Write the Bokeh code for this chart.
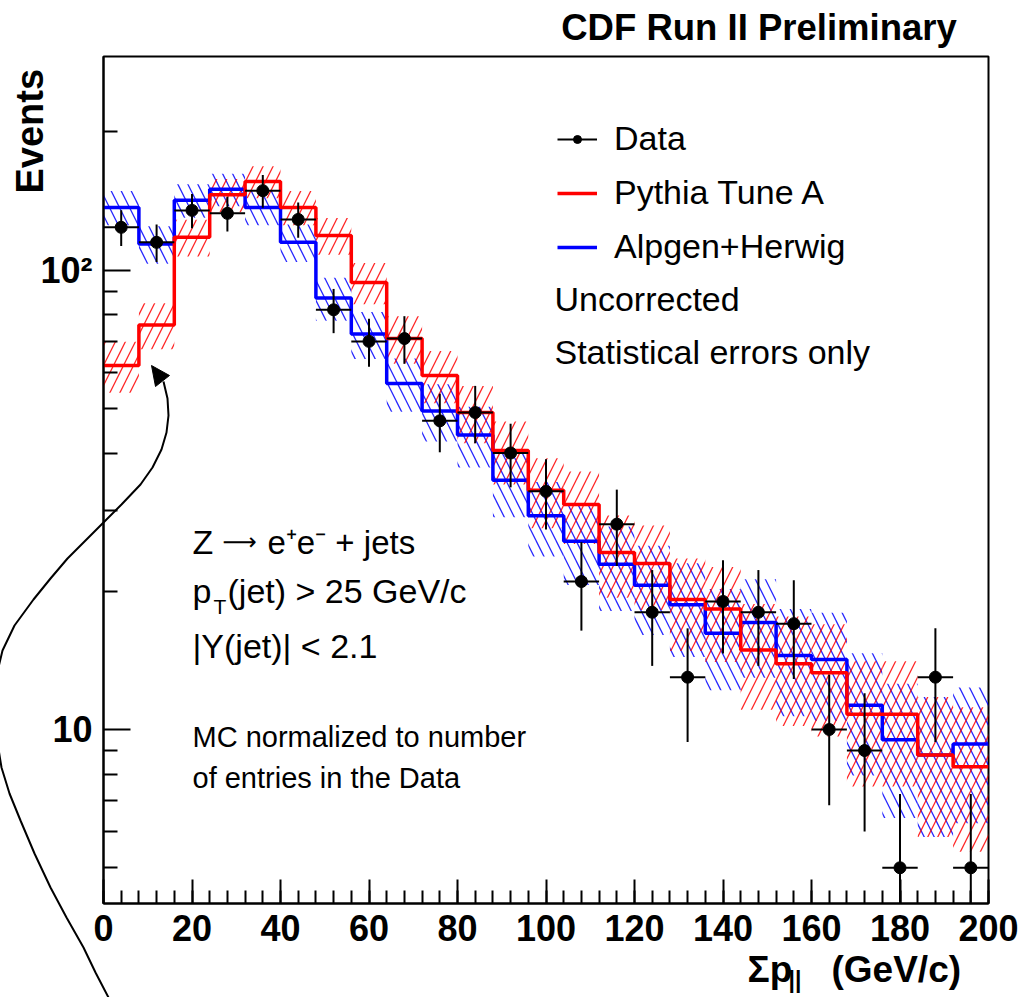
import math
import numpy as np
from bokeh.plotting import figure
from bokeh.models import (Range1d, FixedTicker, SingleIntervalTicker,
                          Legend, LegendItem)
from bokeh.core.properties import value
from bokeh.embed import file_html
from bokeh.resources import INLINE

# ---------------- data ----------------
bin_edges = [0, 8, 16, 24, 32, 40, 48, 56, 64, 72, 80, 88, 96, 104, 112,
             120, 128, 136, 144, 152, 160, 168, 176, 184, 192, 200]
bin_centers = [4, 12, 20, 28, 36, 44, 52, 60, 68, 76, 84, 92, 100, 108,
               116, 124, 132, 140, 148, 156, 164, 172, 180, 188, 196]
data_counts = [124, 115, 135, 133, 149, 129, 82, 70, 71, 47, 49, 40, 33,
               21, 28, 18, 13, 19, 18, 17, 10, 9, 5, 13, 5]
pythia_tune_a = [62, 76, 118, 146, 156, 137, 119, 94, 71, 59, 49, 40.5,
                 33.2, 30.9, 24.3, 23.0, 19.2, 18.3, 14.9, 13.9, 13.3,
                 10.8, 10.8, 8.8, 8.3]
alpgen_herwig = [137, 114, 142, 150, 137, 115, 87, 72.6, 56.7, 49.4, 43.8,
                 34.9, 29.2, 25.7, 22.9, 20.6, 18.7, 16.2, 17.1, 14.5, 14.2,
                 11.3, 9.5, 8.8, 9.3]
y_major_ticks = [10, 100]
y_minor_ticks = [5, 6, 7, 8, 9, 20, 30, 40, 50, 60, 70, 80, 90, 200]
y_tick_labels = {10: "10", 100: "10\u00b2"}

# hand-drawn annotation arrow (canvas pixels)
arrow_path_px = [(108, 997), (95, 972), (83, 947), (66, 917), (50, 887),
                 (34, 853), (20, 820), (9, 793), (1, 767), (-4, 736),
                 (-6, 705), (-4, 675), (2, 650), (14, 625), (33, 599),
                 (50, 578), (67, 558), (85, 540), (102, 523), (121, 504),
                 (140, 484), (152, 467), (161, 449), (166, 432), (168, 415),
                 (167, 398), (163, 381)]
arrow_head_px = [(151, 365), (169, 375), (155, 386)]

# ---------------- geometry ----------------
W, H = 1025, 997
FL, FR, FT, FB = 103, 988, 56, 903
X0, X1 = 0, 200
Y0, Y1 = 4.18, 292.0


def xd(px):
    return X0 + (px - FL) / (FR - FL) * (X1 - X0)


def yd(py):
    lo, hi = math.log10(Y0), math.log10(Y1)
    return 10 ** (lo + (FB - py) / (FB - FT) * (hi - lo))


FONT = "Liberation Sans"

p = figure(width=W, height=H, x_range=Range1d(X0, X1), y_range=Range1d(Y0, Y1),
           y_axis_type="log", output_backend="svg", toolbar_location=None,
           min_border_left=FL, min_border_right=W - FR, min_border_top=FT,
           min_border_bottom=H - FB, background_fill_color="white",
           border_fill_color="white")
p.title.visible = False
p.grid.visible = False
p.outline_line_color = "black"
p.outline_line_width = 2

for ax in (p.xaxis[0], p.yaxis[0]):
    ax.axis_line_width = 2
    ax.major_tick_line_width = 2
    ax.minor_tick_line_width = 2
    ax.major_tick_out = 0
    ax.minor_tick_out = 0
    ax.major_label_text_font = FONT
    ax.major_label_text_font_style = "bold"
    ax.major_label_text_font_size = "36px"
    ax.major_label_text_color = "black"

xa = p.xaxis[0]
xa.ticker = SingleIntervalTicker(interval=20, num_minor_ticks=5)
xa.major_tick_in = 24
xa.minor_tick_in = 13
xa.major_label_standoff = 11

ya = p.yaxis[0]
ya.ticker = FixedTicker(ticks=y_major_ticks, minor_ticks=y_minor_ticks)
ya.major_label_overrides = y_tick_labels
ya.major_tick_in = 27
ya.minor_tick_in = 14
ya.major_label_standoff = 11

edges = np.array(bin_edges, dtype=float)
py_v = np.array(pythia_tune_a, dtype=float)
al_v = np.array(alpgen_herwig, dtype=float)
dat = np.array(data_counts, dtype=float)
py_e = np.sqrt(py_v)
al_e = np.sqrt(al_v)
dat_e = np.sqrt(dat)

# hatched statistical bands
p.quad(left=edges[:-1], right=edges[1:], bottom=al_v - al_e, top=al_v + al_e,
       fill_alpha=0, line_alpha=0, hatch_pattern="\\", hatch_color="#0000ff",
       hatch_scale=20, hatch_weight=1.3, hatch_alpha=0.85)
p.quad(left=edges[:-1], right=edges[1:], bottom=py_v - py_e, top=py_v + py_e,
       fill_alpha=0, line_alpha=0, hatch_pattern="/", hatch_color="#ff0000",
       hatch_scale=20, hatch_weight=1.3, hatch_alpha=0.85)

# step histograms
al_step = p.step(x=edges, y=np.append(al_v, al_v[-1]), mode="after",
                 line_color="#0000ff", line_width=3.5)
py_step = p.step(x=edges, y=np.append(py_v, py_v[-1]), mode="after",
                 line_color="#ff0000", line_width=3.5)

# data
cen = np.array(bin_centers, dtype=float)
data_h = p.segment(x0=edges[:-1], x1=edges[1:], y0=dat, y1=dat,
                   line_color="black", line_width=2)
data_v = p.segment(x0=cen, x1=cen, y0=dat - dat_e, y1=dat + dat_e,
                   line_color="black", line_width=2)
data_pts = p.scatter(cen, dat, size=12, color="black")

legend = Legend(items=[LegendItem(label="Data", renderers=[data_h, data_pts]),
                       LegendItem(label="Pythia Tune A", renderers=[py_step]),
                       LegendItem(label="Alpgen+Herwig", renderers=[al_step])],
                location=(454, 637), label_text_font=FONT,
                label_text_font_size="34px", label_text_color="black",
                glyph_width=40, glyph_height=20,
                label_standoff=17, spacing=15, padding=0, margin=0,
                border_line_alpha=0, background_fill_alpha=0)
p.add_layout(legend)


def add_text(text, px, py, size, bold=False, align="left", angle=0.0,
             font=FONT):
    """Text anchored at its vertical middle (py = visual centre of caps)."""
    p.text(x=[xd(px)], y=[yd(py)], text=[text], text_font=value(font),
           text_font_size=value(f"{size}px"),
           text_font_style=value("bold" if bold else "normal"),
           text_align=value(align), text_baseline=value("middle"),
           text_color="black", angle=angle, level="overlay")


add_text("CDF Run II Preliminary", 758.5, 26.5, 36.5, bold=True, align="center")
add_text("Uncorrected", 554, 298.5, 34)
add_text("Statistical errors only", 554, 351.5, 34)
add_text("Z", 192, 541.5, 34)
add_text("\u27f6", 222, 541, 24, font="DejaVu Sans")
add_text("e\u207ae\u207b + jets", 267, 541.5, 33)
add_text("p", 192, 590, 34)
add_text("T", 213, 606, 21)
add_text("(jet) > 25 GeV/c", 227, 590, 34)
add_text("|Y(jet)| < 2.1", 192, 645.5, 34)
add_text("MC normalized to number", 192, 736, 29)
add_text("of entries in the Data", 192, 777, 29)
add_text("Events", 29, 193, 38, bold=True, angle=math.pi / 2)
add_text("\u03a3p", 747, 969, 37, bold=True)
add_text("||", 788, 979, 23, bold=True)
add_text("(GeV/c)", 831, 969, 37, bold=True)

# annotation arrow (drawn above everything, may extend beyond the frame)
p.line(x=[xd(a) for a, b in arrow_path_px], y=[yd(b) for a, b in arrow_path_px],
       line_color="black", line_width=2, level="overlay")
p.patch(x=[xd(a) for a, b in arrow_head_px], y=[yd(b) for a, b in arrow_head_px],
        color="black", level="overlay")

open("out.html", "w").write(file_html(p, INLINE))
